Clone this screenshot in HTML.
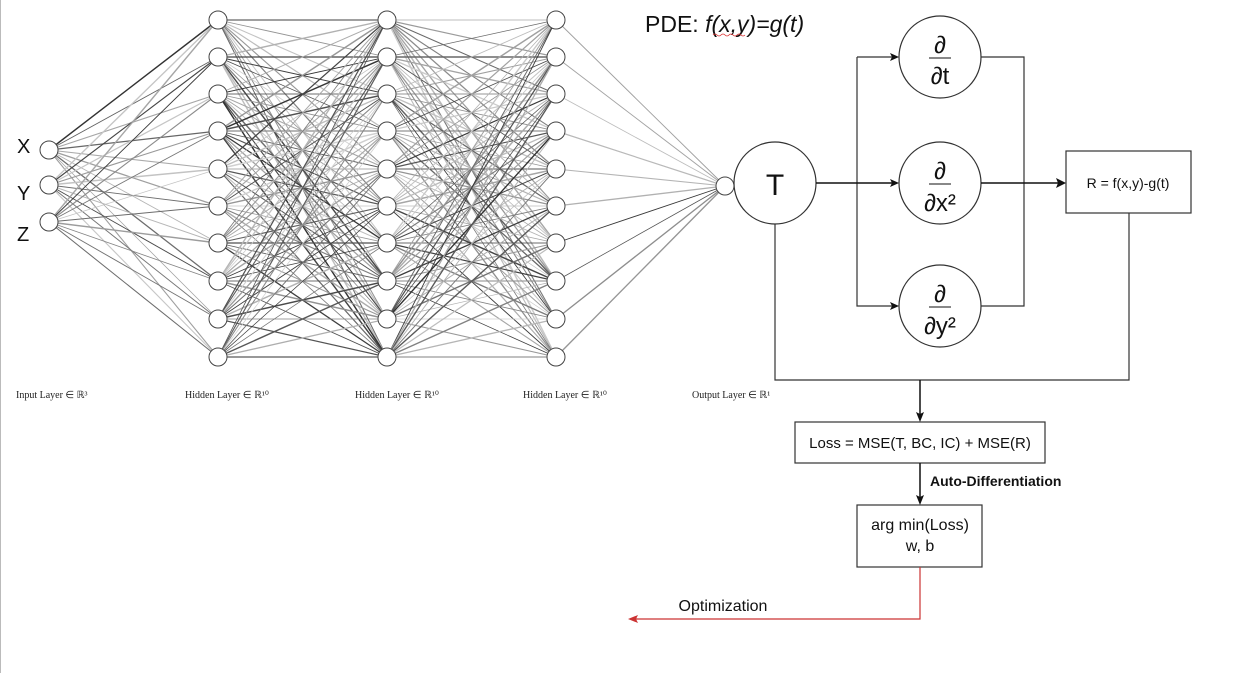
<!DOCTYPE html>
<html><head><meta charset="utf-8"><style>
body{margin:0;background:#fff;width:1240px;height:673px;overflow:hidden}
svg{display:block}
.s{font-family:"Liberation Sans",sans-serif}
.sm{font-family:"Liberation Serif",serif;font-size:10px;fill:#222}
</style></head><body>
<svg id="sv" width="1240" height="673" xmlns="http://www.w3.org/2000/svg">
<line x1="0.5" y1="0" x2="0.5" y2="673" stroke="#bbb"/>
<g id="edges"></g>
<g id="nodes" fill="#fff" stroke="#444" stroke-width="1"></g>
<g class="s" font-size="20" fill="#111">
<text x="17" y="153">X</text><text x="17" y="200">Y</text><text x="17" y="241">Z</text>
</g>
<text class="sm" x="16" y="398">Input Layer ∈ ℝ³</text>
<text class="sm" x="185" y="398">Hidden Layer ∈ ℝ¹⁰</text>
<text class="sm" x="355" y="398">Hidden Layer ∈ ℝ¹⁰</text>
<text class="sm" x="523" y="398">Hidden Layer ∈ ℝ¹⁰</text>
<text class="sm" x="692" y="398">Output Layer ∈ ℝ¹</text>
<text class="s" x="645" y="32" font-size="23" fill="#111">PDE: <tspan font-style="italic">f(x,y)=g(t)</tspan></text>
<path d="M713 35 q2 -2 4 0 q2 2 4 0 q2 -2 4 0 q2 2 4 0 q2 -2 4 0 q2 2 4 0 q2 -2 4 0 q2 2 4 0" stroke="#d33" fill="none" stroke-width="0.8"/>
<g fill="none" stroke="#333" stroke-width="1.2">
<circle cx="775" cy="183" r="41"/>
<circle cx="940" cy="57" r="41"/>
<circle cx="940" cy="183" r="41"/>
<circle cx="940" cy="306" r="41"/>
<rect x="1066" y="151" width="125" height="62"/>
<rect x="795" y="422" width="250" height="41"/>
<rect x="857" y="505" width="125" height="62"/>
<path d="M857 57 H895 M857 57 V306 H895 M981 57 H1024 V306 H981 M775 224 V380 H1129 V213"/>
</g>
<g stroke="#111" stroke-width="1.5" fill="none">
<path d="M816 183 H893"/><path d="M981 183 H1059"/>
<path d="M920 380 V415"/><path d="M920 463 V498"/>
</g>
<g fill="#111">
<polygon points="899,57 890,53 892,57 890,61"/>
<polygon points="899,183 890,179 892,183 890,187"/>
<polygon points="899,306 890,302 892,306 890,310"/>
<polygon points="1066,183 1056,178 1058,183 1056,188"/>
<polygon points="920,422 916,412 920,414 924,412"/>
<polygon points="920,505 916,495 920,497 924,495"/>
</g>
<path d="M920 567 V619 H636" stroke="#c33" fill="none" stroke-width="1.2"/>
<polygon points="628,619 638,615 636,619 638,623" fill="#c33"/>
<g class="s" fill="#111" text-anchor="middle">
<text x="775" y="195" font-size="30">T</text>
<text x="940" y="53" font-size="24">∂</text><line x1="929" y1="58" x2="951" y2="58" stroke="#111"/><text x="940" y="84" font-size="24">∂t</text>
<text x="940" y="179" font-size="24">∂</text><line x1="929" y1="184" x2="951" y2="184" stroke="#111"/><text x="940" y="211" font-size="24">∂x²</text>
<text x="940" y="302" font-size="24">∂</text><line x1="929" y1="307" x2="951" y2="307" stroke="#111"/><text x="940" y="334" font-size="24">∂y²</text>
<text x="1128" y="188" font-size="14">R = f(x,y)-g(t)</text>
<text x="920" y="448" font-size="15">Loss = MSE(T, BC, IC) + MSE(R)</text>
<text x="920" y="530" font-size="16">arg min(Loss)</text>
<text x="920" y="551" font-size="16">w, b</text>
<text x="723" y="611" font-size="16">Optimization</text>
</g>
<text class="s" x="930" y="486" font-size="14" font-weight="bold" fill="#111">Auto-Differentiation</text>
</svg>
<script>
var L=[[49,[150,185,222]]];
var hy=[20,57,94,131,169,206,243,281,319,357];
L.push([218,hy]);L.push([387,hy]);L.push([556,hy]);L.push([725,[186]]);
var seed=7;function r(){seed=(seed*16807)%2147483647;return seed/2147483647;}
var e='';
for(var i=0;i<L.length-1;i++){var a=L[i],b=L[i+1];
for(var p=0;p<a[1].length;p++)for(var q=0;q<b[1].length;q++){
var g=Math.floor(50+r()*160);
e+='<line x1="'+a[0]+'" y1="'+a[1][p]+'" x2="'+b[0]+'" y2="'+b[1][q]+'" stroke="rgb('+g+','+g+','+g+')" stroke-width="'+(0.7+r()*0.8).toFixed(2)+'"/>';}}
document.getElementById('edges').innerHTML=e;
var n='';
L.forEach(function(l){l[1].forEach(function(y){n+='<circle cx="'+l[0]+'" cy="'+y+'" r="9"/>';});});
document.getElementById('nodes').innerHTML=n;
</script>
</body></html>
